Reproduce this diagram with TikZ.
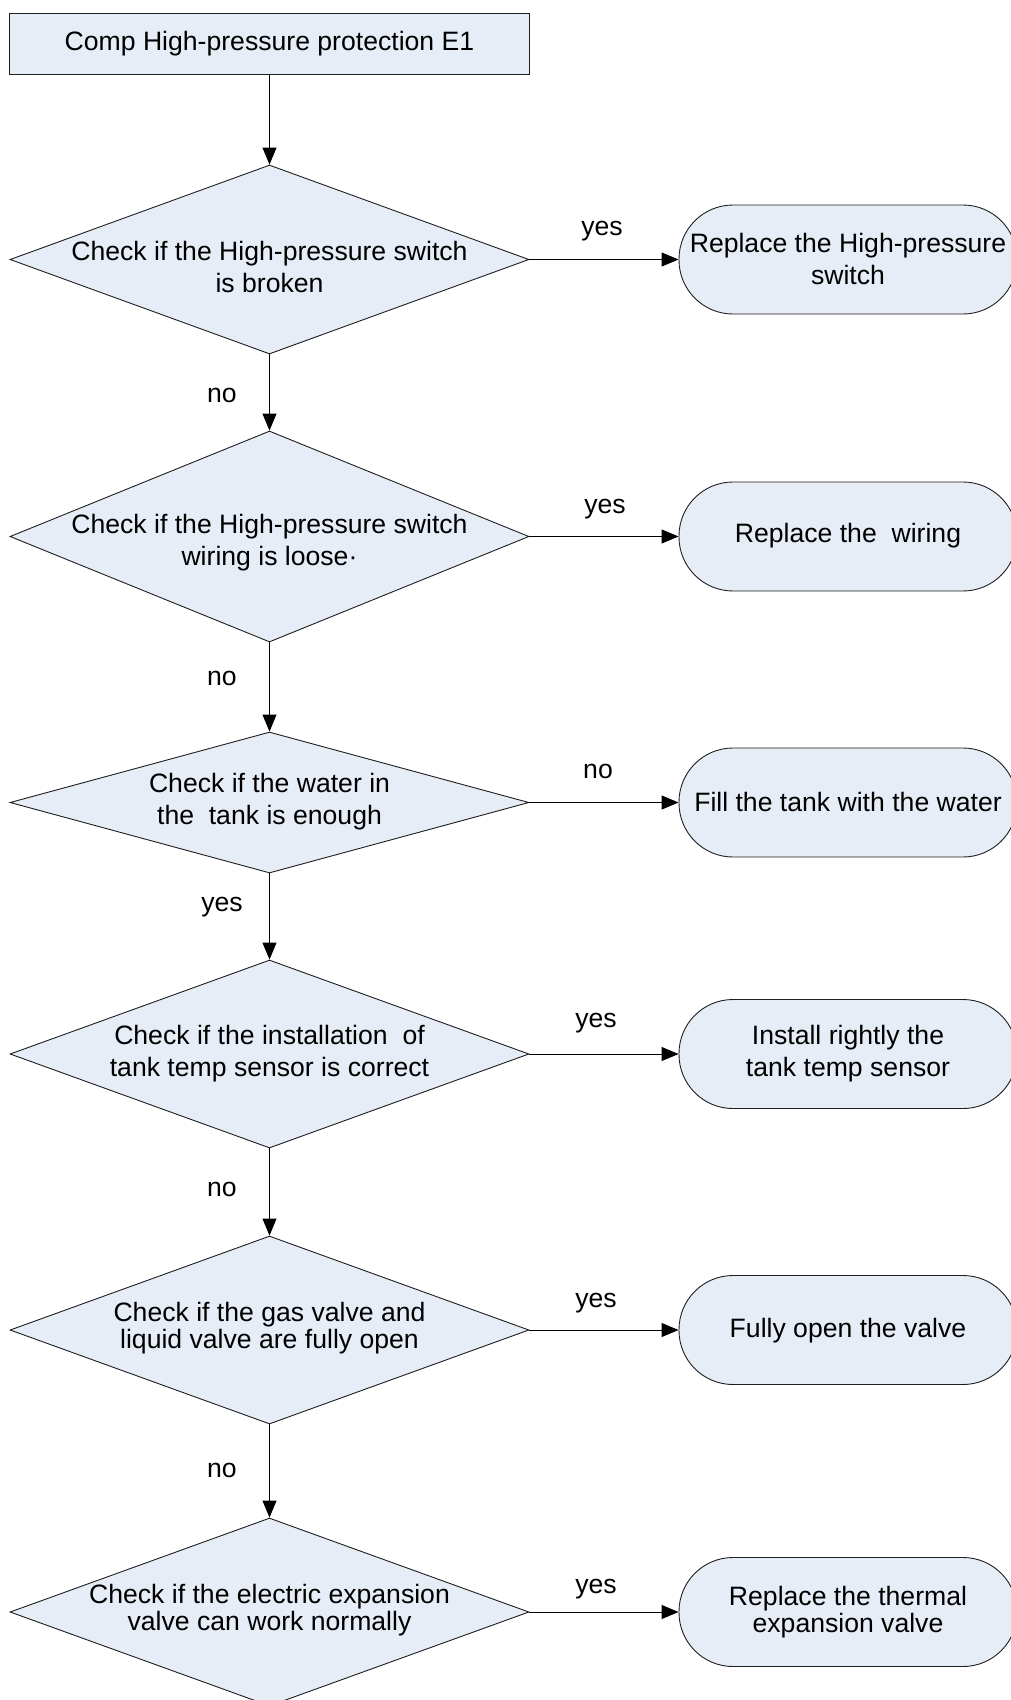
\documentclass[tikz,border=0pt]{standalone}
\usepackage{fontspec}
\setmainfont{Liberation Sans}
\usetikzlibrary{shapes.geometric,arrows.meta}
\definecolor{boxfill}{RGB}{231,237,247}
\definecolor{edge}{RGB}{30,30,30}
\begin{document}
\begin{tikzpicture}[x=1pt,y=-1pt,
  font=\fontsize{26.6}{32}\selectfont,
  base/.style={draw=edge, fill=boxfill, line width=0.9pt, inner sep=0pt},
  startbox/.style={base, rectangle, minimum width=520pt, minimum height=61pt},
  dia/.style={base, diamond, minimum width=519pt},
  term/.style={base, rectangle, rounded corners=54pt, minimum width=338pt, minimum height=109pt},
  txt/.style={align=center, inner sep=0pt},
  tight/.style={font=\fontsize{26.6}{26.8}\selectfont},
  lbl/.style={inner sep=0pt},
  arr/.style={draw=black, line width=0.9pt, -{Triangle[length=17pt,width=14pt]}},
]
\useasboundingbox (0,0) rectangle (1011,1700);

% start
\node[startbox] (top) at (269.5,43.5) {};
\node[txt] (toptxt) at (269.5,44) {Comp High-pressure protection E1};

% diamonds
\node[dia, minimum height=189pt] (d1) at (269.5,259.5) {};
\node[dia, minimum height=211pt] (d2) at (269.5,536.5) {};
\node[dia, minimum height=141pt] (d3) at (269.5,802.5) {};
\node[dia, minimum height=188pt] (d4) at (269.5,1054) {};
\node[dia, minimum height=188pt] (d5) at (269.5,1330) {};
\node[dia, minimum height=188pt] (d6) at (269.5,1612) {};

\node[txt] (t1) at (269.5,267) {Check if the High-pressure switch\\is broken};
\node[txt] (t2) at (269.5,543) {Check if the High-pressure switch\\wiring is loose·};
\node[txt] (t3) at (269.5,802) {Check if the water in\\the\ \ tank is enough};
\node[txt] (t4) at (269.5,1053.5) {Check if the installation\ \ of\\tank temp sensor is correct};
\node[txt, tight] (t5) at (269.5,1328) {Check if the gas valve and\\liquid valve are fully open};
\node[txt, tight] (t6) at (269.5,1610.5) {Check if the electric expansion\\valve can work normally};

% terminators
\node[term] (b1) at (848,259.5) {};
\node[term] (b2) at (848,536.5) {};
\node[term] (b3) at (848,802.5) {};
\node[term] (b4) at (848,1054) {};
\node[term] (b5) at (848,1330) {};
\node[term] (b6) at (848,1612) {};

\node[txt] (s1) at (848,259) {Replace the High-pressure\\switch};
\node[txt] (s2) at (848,536) {Replace the\ \ wiring};
\node[txt] (s3) at (848,802) {Fill the tank with the water};
\node[txt] (s4) at (848,1053.5) {Install rightly the\\tank temp sensor};
\node[txt] (s5) at (848,1331) {Fully open the valve};
\node[txt, tight] (s6) at (848,1612) {Replace the thermal\\expansion valve};

% vertical connectors
\draw[arr] (top.south) -- (d1.north);
\draw[arr] (d1.south) -- (d2.north);
\draw[arr] (d2.south) -- (d3.north);
\draw[arr] (d3.south) -- (d4.north);
\draw[arr] (d4.south) -- (d5.north);
\draw[arr] (d5.south) -- (d6.north);

% horizontal connectors
\draw[arr] (d1.east) -- (b1.west);
\draw[arr] (d2.east) -- (b2.west);
\draw[arr] (d3.east) -- (b3.west);
\draw[arr] (d4.east) -- (b4.west);
\draw[arr] (d5.east) -- (b5.west);
\draw[arr] (d6.east) -- (b6.west);

% labels
\node[lbl] (v1) at (222,395) {no};
\node[lbl] (v2) at (222,678) {no};
\node[lbl] (v3) at (222,907) {yes};
\node[lbl] (v4) at (222,1189) {no};
\node[lbl] (v5) at (222,1470) {no};

\node[lbl] (h1) at (602,231) {yes};
\node[lbl] (h2) at (605,509) {yes};
\node[lbl] (h3) at (598,771) {no};
\node[lbl] (h4) at (596,1023) {yes};
\node[lbl] (h5) at (596,1303) {yes};
\node[lbl] (h6) at (596,1589) {yes};
\end{tikzpicture}
\end{document}
